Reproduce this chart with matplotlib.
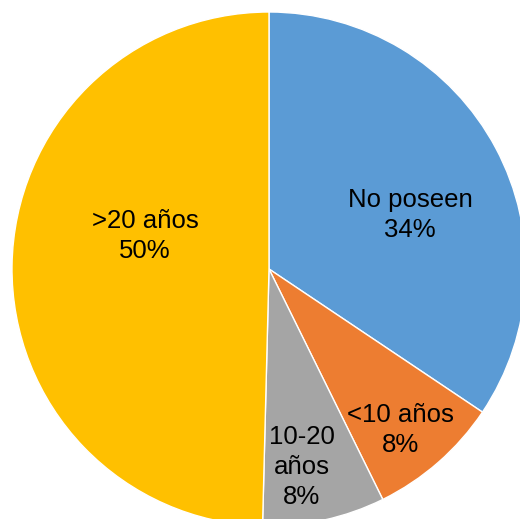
import matplotlib
matplotlib.use("Agg")
import matplotlib.pyplot as plt

categorias = ["No poseen", "<10 años", "10-20\naños", ">20 años"]
porcentajes = [34.4, 8.3, 7.7, 49.6]
colores = ["#5B9BD5", "#ED7D31", "#A5A5A5", "#FFC000"]

# posiciones de etiquetas (en unidades del radio)
pos_etiquetas = [(0.549, 0.21), (0.51, -0.626), (0.128, -0.77), (-0.482, 0.128)]

plt.rcParams["font.family"] = ["Liberation Sans", "DejaVu Sans"]

fig = plt.figure(figsize=(5.20, 5.19), dpi=100)
ax = fig.add_axes([0, 0, 1, 1])

wedges, texts = ax.pie(
    porcentajes,
    labels=[f"{c}\n{round(p)}%" for c, p in zip(categorias, porcentajes)],
    colors=colores,
    startangle=90,
    counterclock=False,
    radius=1.0,
    wedgeprops=dict(edgecolor="white", linewidth=1),
    textprops=dict(fontsize=18.5, color="black", ha="center", va="center",
                   linespacing=1.31),
)
for t, (x, y) in zip(texts, pos_etiquetas):
    t.set_position((x, y))
    t.set_ha("center")
    t.set_va("center")

# centro en (269, 269) px, radio 257 px
ax.set_xlim(-269 / 257, 251 / 257)
ax.set_ylim(-250 / 257, 269 / 257)
ax.set_aspect("equal")
ax.axis("off")

fig.savefig("out.png", dpi=100)
